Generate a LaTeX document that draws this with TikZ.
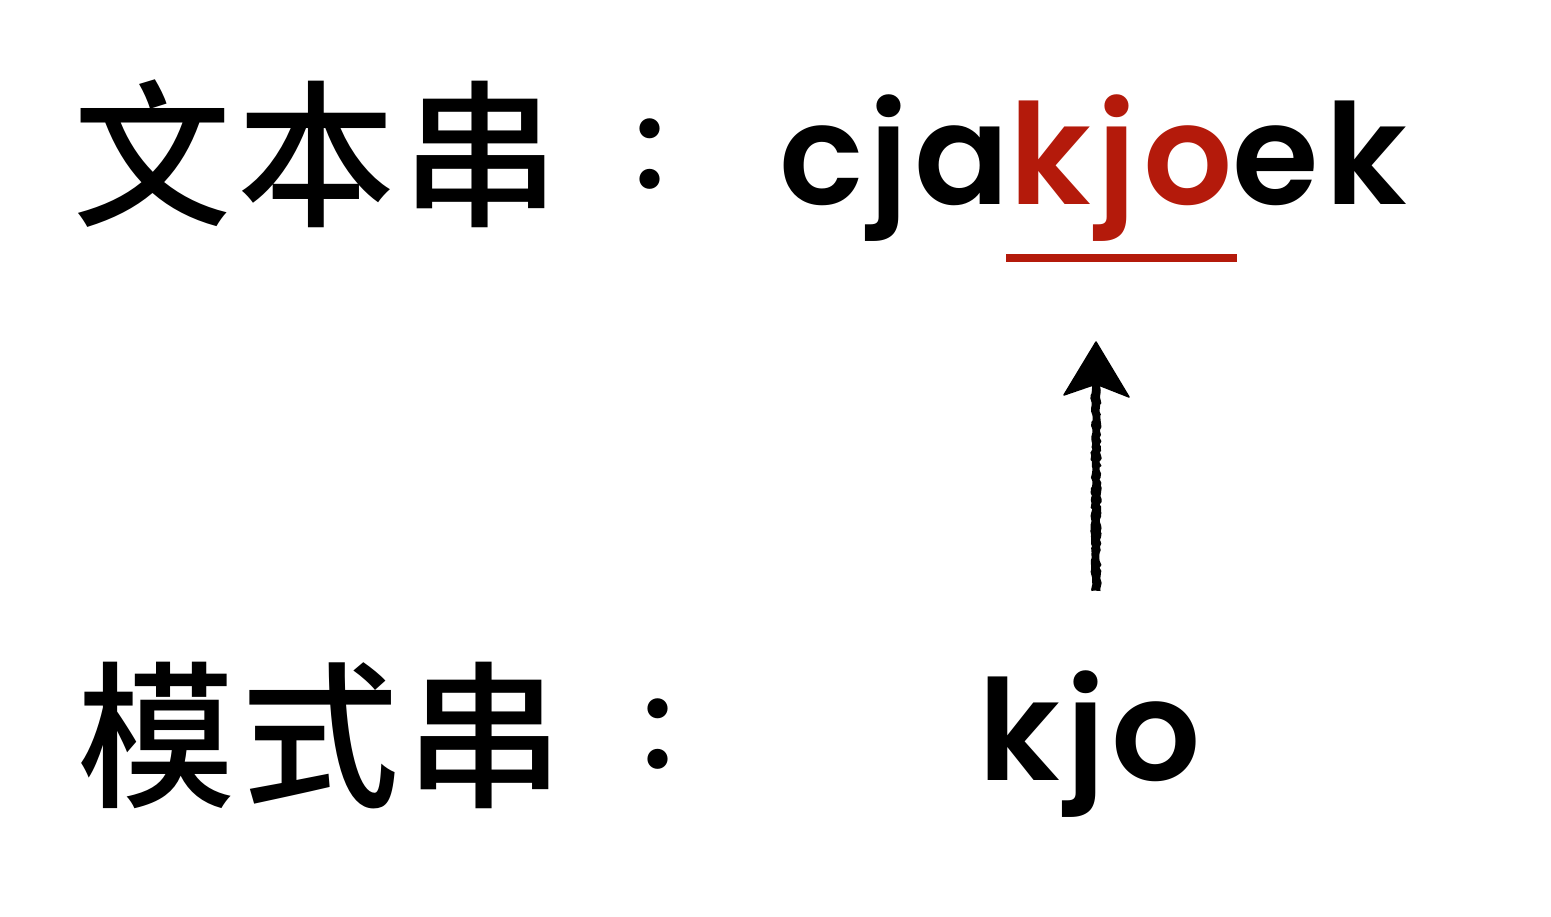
\documentclass[tikz,border=0pt]{standalone}
\usepackage{fontspec}
\newfontfamily\cjk{Noto Sans CJK SC Medium}[BoldFont={Noto Sans CJK SC Bold}]
\newfontfamily\latin{Poppins}[BoldFont={Poppins SemiBold}]
\usetikzlibrary{decorations.pathmorphing}
\definecolor{hlred}{RGB}{180,26,11}
\newcommand{\cjkgap}{\hspace{6pt}}
\tikzset{
  cjktext/.style={inner sep=0pt, anchor=base west, font=\cjk\fontsize{158}{158}\selectfont},
  colontext/.style={inner sep=0pt, anchor=center, font=\cjk\bfseries\fontsize{106}{106}\selectfont},
  strtext/.style={inner sep=0pt, anchor=base west, font=\latin\bfseries\fontsize{140}{140}\selectfont\addfontfeature{LetterSpace=4.5}},
  underl/.style={draw=hlred, line width=8pt},
  roughshaft/.style={fill=black, decorate, decoration={random steps, segment length=3pt, amplitude=1.2pt}},
  roughhead/.style={fill=black, draw=black, line width=1.5pt, line join=round}
}
\begin{document}
\begin{tikzpicture}[x=1pt,y=-1pt]
\useasboundingbox (0,0) rectangle (1551,917);
\node[cjktext] (t1) at (73,215) {文\cjkgap 本\cjkgap 串};
\node[colontext] (c1) at (676,154) {：};
\node[strtext] (s1) at (779,205) {cja\textcolor{hlred}{kjo}ek};
\coordinate (ul1) at (1006,258);
\coordinate (ul2) at (1237,258);
\draw[underl] (ul1) -- (ul2);
\coordinate (ashaftA) at (1091.5,591);
\coordinate (ashaftB) at (1100.5,384);
\coordinate (atip) at (1096,342);
\coordinate (awl) at (1064,395);
\coordinate (awr) at (1129,397);
\coordinate (anotch) at (1096,384);
\fill[roughshaft] (ashaftA) rectangle (ashaftB);
\filldraw[roughhead] (atip) -- (awr) -- (anotch) -- (awl) -- cycle;
\node[cjktext] (t2) at (77,795) {模\cjkgap 式\cjkgap 串};
\node[colontext] (c2) at (684,734) {：};
\node[strtext] (s2) at (978,780) {kjo};
\end{tikzpicture}
\end{document}
